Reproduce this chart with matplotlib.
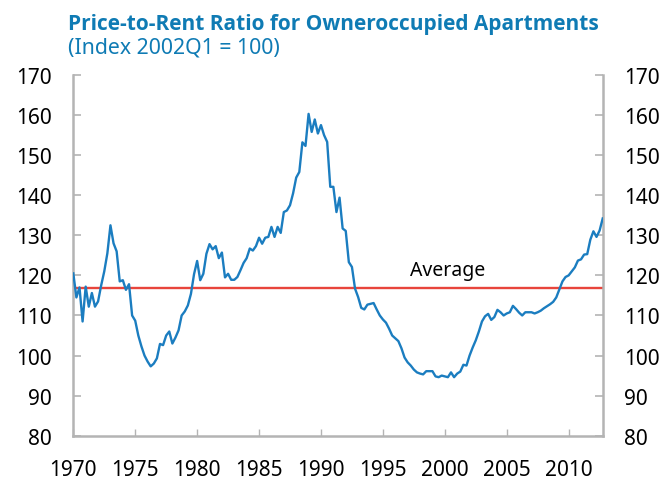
import numpy as np
import matplotlib
matplotlib.use('Agg')
import matplotlib.pyplot as plt

plt.rcParams['font.family'] = ['Noto Sans', 'DejaVu Sans']

# quarterly index, 1970Q1 .. 2012Q4 (one row per year)
ratio = [
    120.5, 114.5, 117.0, 108.5,   # 1970
    117.2, 112.2, 115.6, 112.2,   # 1971
    113.5, 117.5, 121.0, 125.5,   # 1972
    132.5, 128.0, 126.0, 118.5,   # 1973
    118.8, 116.4, 117.8, 110.0,   # 1974
    108.7, 105.0, 102.3, 100.0,   # 1975
    98.5, 97.3, 98.0, 99.3,       # 1976
    102.9, 102.6, 105.0, 106.0,   # 1977
    103.0, 104.5, 106.3, 110.0,   # 1978
    111.0, 112.5, 115.4, 120.3,   # 1979
    123.6, 118.8, 120.4, 125.4,   # 1980
    127.8, 126.5, 127.3, 124.3,   # 1981
    125.7, 119.5, 120.4, 118.9,   # 1982
    118.9, 119.6, 121.3, 123.1,   # 1983
    124.3, 126.7, 126.2, 127.3,   # 1984
    129.4, 127.9, 129.4, 129.6,   # 1985
    132.1, 129.6, 132.1, 130.6,   # 1986
    135.8, 136.2, 137.5, 140.5,   # 1987
    144.4, 145.8, 153.2, 152.3,   # 1988
    160.3, 155.8, 158.9, 155.4,   # 1989
    157.5, 155.0, 153.3, 142.1,   # 1990
    142.1, 135.8, 139.4, 131.7,   # 1991
    131.1, 123.3, 122.1, 116.7,   # 1992
    114.6, 111.9, 111.5, 112.7,   # 1993
    112.9, 113.1, 111.5, 110.0,   # 1994
    109.0, 108.2, 106.7, 105.0,   # 1995
    104.3, 103.6, 101.8, 99.5,    # 1996
    98.3, 97.5, 96.5, 95.8,       # 1997
    95.5, 95.3, 96.1, 96.1,       # 1998
    96.1, 94.8, 94.6, 95.0,       # 1999
    94.8, 94.6, 95.8, 94.6,       # 2000
    95.5, 96.0, 97.7, 97.5,       # 2001
    100.0, 102.0, 103.8, 106.0,   # 2002
    108.5, 109.8, 110.4, 108.9,   # 2003
    109.6, 111.4, 110.8, 110.0,   # 2004
    110.5, 110.8, 112.4, 111.6,   # 2005
    110.7, 110.0, 110.8, 110.8,   # 2006
    110.8, 110.5, 110.8, 111.2,   # 2007
    111.8, 112.3, 112.8, 113.4,   # 2008
    114.5, 116.5, 118.5, 119.6,   # 2009
    120.0, 121.0, 122.0, 123.7,   # 2010
    124.0, 125.2, 125.3, 128.9,   # 2011
    131.0, 129.6, 131.2, 134.2,   # 2012
]
first_year = 1970
average = 116.8

year_ticks = [1970, 1975, 1980, 1985, 1990, 1995, 2000, 2005, 2010]
value_ticks = [80, 90, 100, 110, 120, 130, 140, 150, 160, 170]

t = first_year + np.arange(len(ratio)) / 4.0

blue = '#1b7dc0'
title_blue = '#0f7bb4'
grey = '#b4b4b4'

fig = plt.figure(figsize=(6.66, 4.81), dpi=100)
ax = fig.add_axes([73.3/666, 1-436.7/481, (602.7-73.3)/666, (436.7-76)/481])

ax.plot(t, ratio, color=blue, lw=1.7, zorder=3)
ax.axhline(average, color='#e8453c', lw=1.7, zorder=2)
ax.text(1997.2, 120.2, 'Average', fontsize=14, va='baseline', ha='left')

ax.set_xlim(1970, t[-1])
ax.set_ylim(80, 170)
ax.set_xticks(year_ticks)
ax.set_xticklabels([str(y) for y in year_ticks])
ax.set_yticks(value_ticks)

ax.spines['top'].set_visible(False)
for s in ['left', 'right', 'bottom']:
    ax.spines[s].set_color(grey)
    ax.spines[s].set_linewidth(1.8)

ax.tick_params(axis='y', direction='in', length=6, width=1.2, color=grey,
               labelsize=15, pad=15.5, left=True, right=True, labelright=True)
ax.tick_params(axis='x', direction='in', length=5, width=1.0, color=grey,
               labelsize=15, pad=17)

fig.text(68.3/666, 1-30/481, 'Price-to-Rent Ratio for Owneroccupied Apartments',
         fontsize=15.0, fontweight='bold', color=title_blue, va='baseline',
         family=['Open Sans', 'DejaVu Sans'])
fig.text(68.3/666, 1-53.3/481, '(Index 2002Q1 = 100)',
         fontsize=15.3, color=title_blue, va='baseline')

fig.savefig('out.png', dpi=100)
